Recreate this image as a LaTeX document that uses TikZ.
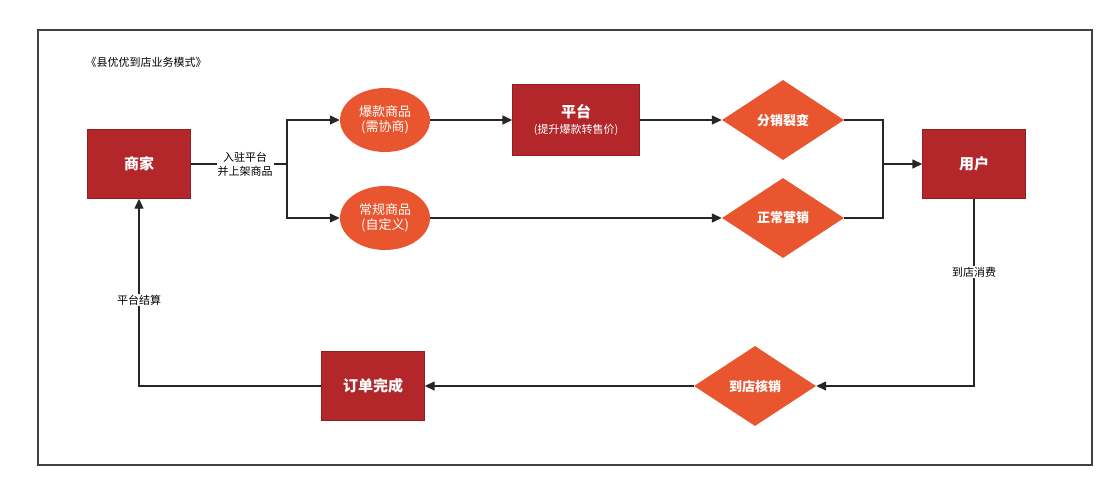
\documentclass[tikz,border=0pt]{standalone}
\usepackage{fontspec}
\setmainfont{Noto Sans CJK SC}
\usetikzlibrary{shapes.geometric,arrows.meta}
\definecolor{dred}{HTML}{B3272B}
\definecolor{org}{HTML}{E9552F}
\begin{document}
\begin{tikzpicture}[x=1pt,y=-1pt,
 rbox/.style={fill=dred,draw=dred!80!black,minimum width=103pt,minimum height=69pt,text=white,font=\fontsize{15}{17}\selectfont\bfseries,align=center},
 ell/.style={ellipse,fill=org,minimum width=90pt,minimum height=64pt,text=white,font=\fontsize{13}{15}\selectfont,align=center,inner sep=0pt},
 dia/.style={diamond,fill=org,minimum width=122pt,minimum height=80pt,aspect=1.5,text=white,font=\fontsize{13}{15}\selectfont\bfseries,inner sep=0pt},
 lbl/.style={font=\fontsize{11}{14}\selectfont,align=center,fill=white,inner sep=1pt},
 arr/.style={draw=black!85,line width=1.4pt,-{Triangle[length=10pt,width=9pt]}},
 ln/.style={draw=black!85,line width=1.4pt}]
\useasboundingbox (0,0) rectangle (1119,499);
\draw[line width=2pt,draw=black!75] (38,30) rectangle (1092,465);
\node[font=\fontsize{11}{13}\selectfont,anchor=west] (title) at (82,62) {《县优优到店业务模式》};
\node[rbox] (sj) at (139,164) {商家};
\node[ell] (bk) at (385,120) {爆款商品\\(需协商)};
\node[ell] (cg) at (385,218) {常规商品\\(自定义)};
\node[rbox,minimum width=127pt,minimum height=71pt] (pt) at (576,120) {平台\\[-1pt]{\fontsize{11}{13}\selectfont\mdseries (提升爆款转售价)}};
\node[dia] (fx) at (783,120) {分销裂变};
\node[dia] (zc) at (783,218) {正常营销};
\node[rbox] (yh) at (974,164) {用户};
\node[dia] (dd) at (755,386) {到店核销};
\node[rbox] (dw) at (373,386) {订单完成};
\coordinate (sp) at (287,164);
\coordinate (mg) at (883,164);
\draw[ln] (sj) -- (sp);
\draw[arr] (sp) |- (bk);
\draw[arr] (sp) |- (cg);
\node[lbl] (l1) at (245,164) {入驻平台\\并上架商品};
\draw[arr] (bk) -- (pt);
\draw[arr] (pt) -- (fx);
\draw[arr] (cg) -- (zc);
\draw[ln] (fx) -| (mg);
\draw[ln] (zc) -| (mg);
\draw[arr] (mg) -- (yh);
\draw[arr] (yh.south) |- (dd);
\node[lbl] (l2) at (974,272) {到店消费};
\draw[arr] (dd) -- (dw);
\draw[arr] (dw) -| (sj.south);
\node[lbl] (l3) at (139,300) {平台结算};
\end{tikzpicture}
\end{document}
